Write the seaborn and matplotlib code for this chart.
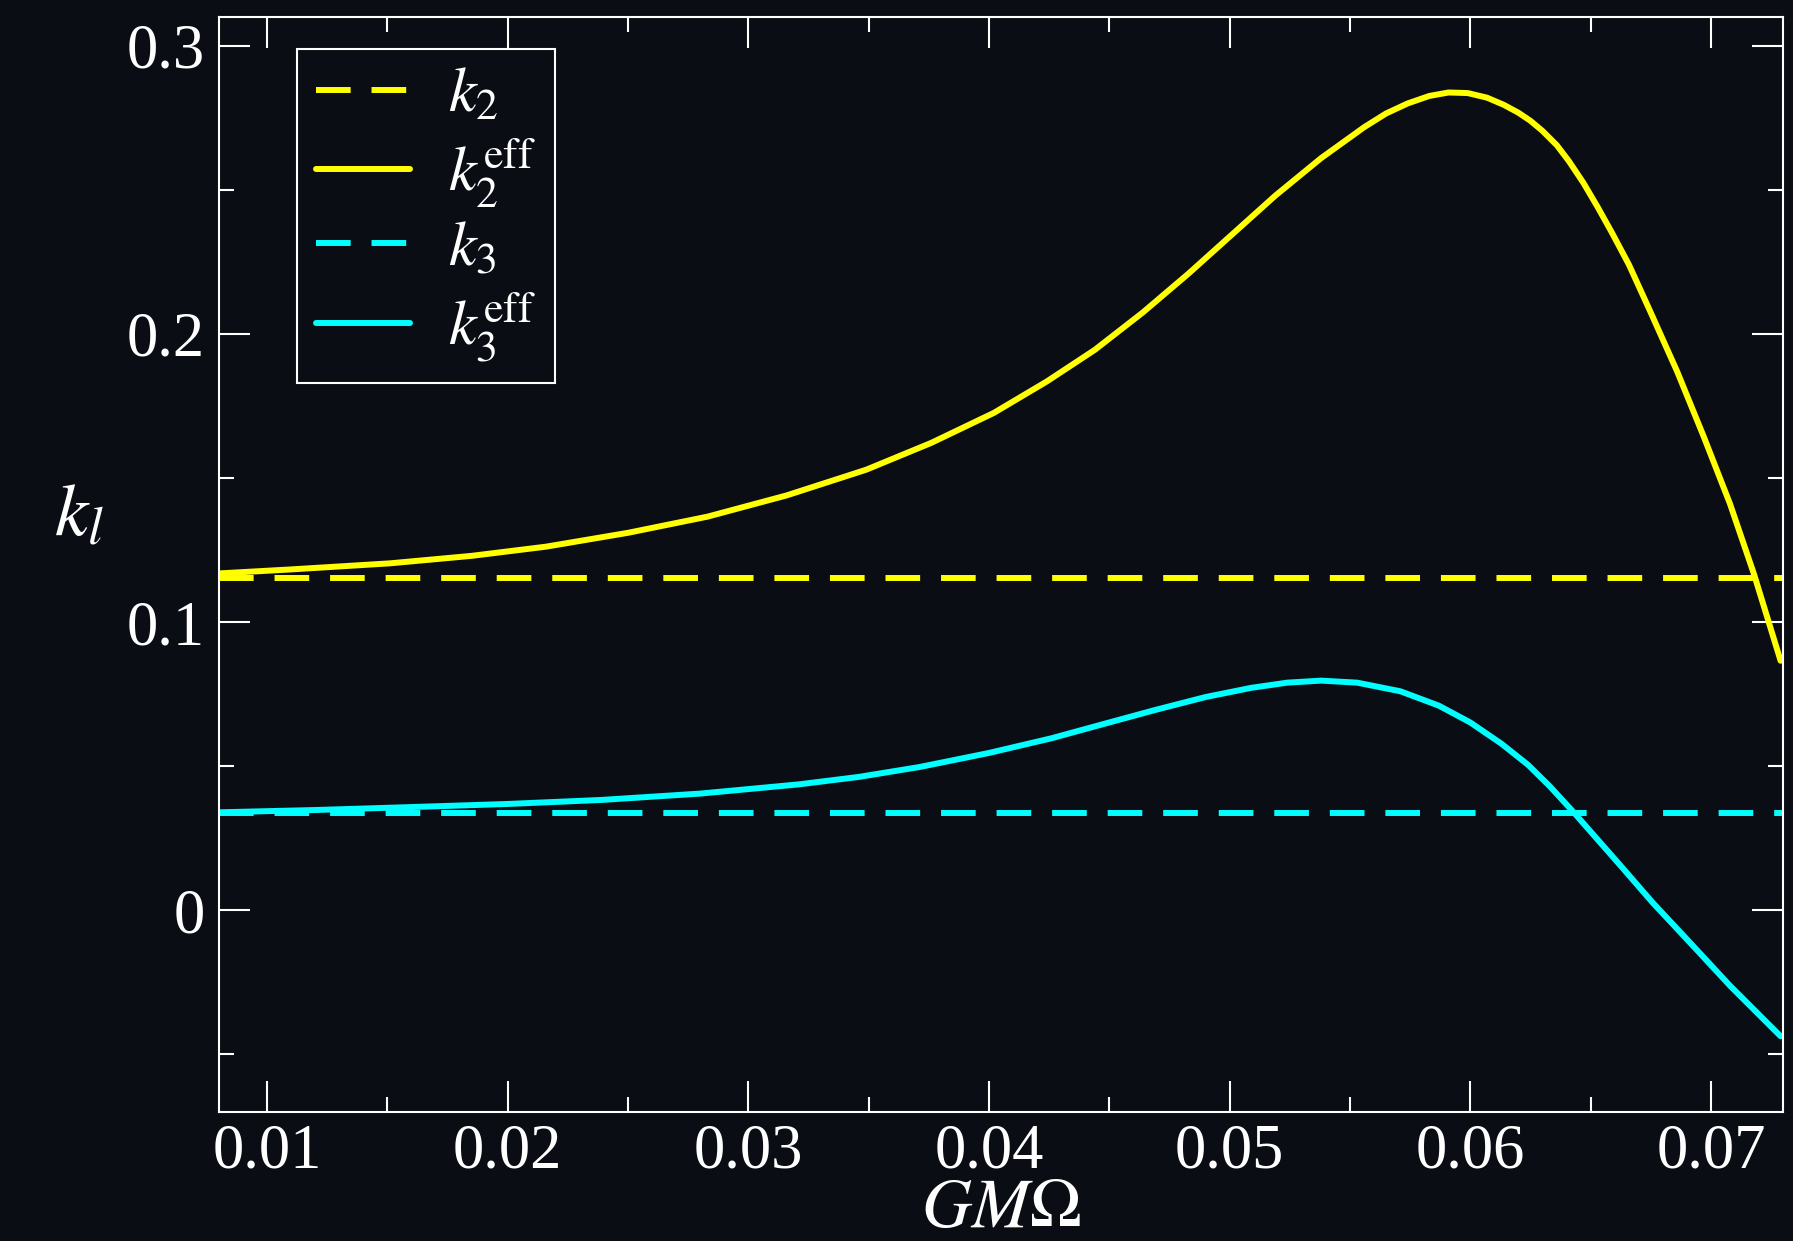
import numpy as np
import pandas as pd
import matplotlib
matplotlib.use("Agg")
import matplotlib.pyplot as plt
from matplotlib.ticker import FixedLocator, MultipleLocator
import seaborn as sns

# ---------------- data ----------------
k2_const = 0.1154
k3_const = 0.0337

k2eff_x = [0.0080, 0.0110, 0.0151, 0.0185, 0.0216, 0.0250, 0.0283, 0.0316, 0.0349,
           0.0376, 0.0402, 0.0424, 0.0444, 0.0464, 0.0483, 0.0501, 0.0519, 0.0538,
           0.0556, 0.0565, 0.0574, 0.0583, 0.0591, 0.0599, 0.0607, 0.0614, 0.0620,
           0.0625, 0.0630, 0.0636, 0.0641, 0.0647, 0.0653, 0.0659, 0.0666, 0.0675,
           0.0686, 0.0697, 0.0708, 0.0718, 0.0729]
k2eff_y = [0.1169, 0.1183, 0.1204, 0.1230, 0.1262, 0.1310, 0.1366, 0.1440, 0.1529,
           0.1622, 0.1726, 0.1835, 0.1945, 0.2075, 0.2210, 0.2345, 0.2480, 0.2610,
           0.2718, 0.2765, 0.2800, 0.2826, 0.2838, 0.2836, 0.2820, 0.2795, 0.2768,
           0.2740, 0.2705, 0.2655, 0.2600, 0.2525, 0.2440, 0.2350, 0.2240, 0.2075,
           0.1870, 0.1645, 0.1410, 0.1165, 0.0866]

k3eff_x = [0.0080, 0.0120, 0.0159, 0.0200, 0.0239, 0.0280, 0.0321, 0.0346, 0.0371,
           0.0400, 0.0426, 0.0447, 0.0469, 0.0490, 0.0509, 0.0524, 0.0538, 0.0553,
           0.0571, 0.0587, 0.0600, 0.0613, 0.0624, 0.0633, 0.0643, 0.0653, 0.0663,
           0.0676, 0.0690, 0.0708, 0.0729]
k3eff_y = [0.0340, 0.0348, 0.0358, 0.0369, 0.0383, 0.0405, 0.0437, 0.0463, 0.0497,
           0.0546, 0.0597, 0.0645, 0.0695, 0.0740, 0.0772, 0.0790, 0.0797, 0.0790,
           0.0760, 0.0710, 0.0652, 0.0578, 0.0505, 0.0431, 0.0340, 0.0245, 0.0150,
           0.0025, -0.0100, -0.0262, -0.0437]

x_range = [0.008, 0.073]
y_range = [-0.07, 0.31]
xtick_values = [0.01, 0.02, 0.03, 0.04, 0.05, 0.06, 0.07]
xtick_labels = ["0.01", "0.02", "0.03", "0.04", "0.05", "0.06", "0.07"]
ytick_values = [0.0, 0.1, 0.2, 0.3]
ytick_labels = ["0", "0.1", "0.2", "0.3"]

legend_labels = [r"$k_2$", r"$k_2^{\rm eff}$", r"$k_3$", r"$k_3^{\rm eff}$"]
x_label = r"$GM\Omega$"
y_label = r"$k_l$"

# ---------------- style ----------------
BG = "#0a0e14"
FG = "#ffffff"
YELLOW = "#ffff00"
CYAN = "#00ffff"

sns.set_theme(style="dark")
plt.rcParams.update({
    "figure.facecolor": BG,
    "axes.facecolor": BG,
    "axes.edgecolor": FG,
    "axes.linewidth": 1.5,
    "axes.grid": False,
    "text.color": FG,
    "axes.labelcolor": FG,
    "xtick.color": FG,
    "ytick.color": FG,
    "mathtext.fontset": "stix",
    "lines.solid_joinstyle": "round",
})
plt.rcParams["font.family"] = ["Liberation Serif", "DejaVu Serif"]

fig = plt.figure(figsize=(17.93, 12.41), dpi=100)
ax = fig.add_axes([219 / 1793, 1 - 1112 / 1241, (1783 - 219) / 1793, (1112 - 17) / 1241])
ax.set_facecolor(BG)

lw = 4.3
dash = (0, (5.8, 3.5))

df_k2 = pd.DataFrame({"x": x_range, "y": [k2_const] * 2})
df_k2e = pd.DataFrame({"x": k2eff_x, "y": k2eff_y})
df_k3 = pd.DataFrame({"x": x_range, "y": [k3_const] * 2})
df_k3e = pd.DataFrame({"x": k3eff_x, "y": k3eff_y})

sns.lineplot(data=df_k2, x="x", y="y", ax=ax, color=YELLOW, lw=lw, linestyle=dash,
             label=legend_labels[0], sort=False)
sns.lineplot(data=df_k2e, x="x", y="y", ax=ax, color=YELLOW, lw=lw,
             label=legend_labels[1], sort=False)
sns.lineplot(data=df_k3, x="x", y="y", ax=ax, color=CYAN, lw=lw, linestyle=dash,
             label=legend_labels[2], sort=False)
sns.lineplot(data=df_k3e, x="x", y="y", ax=ax, color=CYAN, lw=lw,
             label=legend_labels[3], sort=False)

ax.set_xlim(*x_range)
ax.set_ylim(*y_range)

ax.xaxis.set_major_locator(FixedLocator(xtick_values))
ax.set_xticklabels(xtick_labels)
ax.xaxis.set_minor_locator(MultipleLocator(0.005))
ax.yaxis.set_major_locator(FixedLocator(ytick_values))
ax.set_yticklabels(ytick_labels)
ax.yaxis.set_minor_locator(MultipleLocator(0.05))

ax.tick_params(which="both", direction="in", top=True, right=True,
               bottom=True, left=True, color=FG, width=1.5)
ax.tick_params(which="major", length=22, labelsize=45)
ax.tick_params(axis="x", which="major", pad=8)
ax.tick_params(axis="y", which="major", pad=10)
ax.tick_params(which="minor", length=11)
for s in ax.spines.values():
    s.set_color(FG)
    s.set_linewidth(1.5)
    s.set_visible(True)

ax.set_xlabel(x_label, fontsize=50, color=FG, va="center")
ax.xaxis.set_label_coords(0.5, -0.090)
ax.set_ylabel(y_label, fontsize=54, color=FG, rotation=0, va="center", ha="center")
ax.yaxis.set_label_coords(-0.0895, 0.543)

leg = ax.legend(loc="upper left", bbox_to_anchor=(0.0499, 0.971), borderaxespad=0,
                fontsize=45, frameon=True, fancybox=False, handlelength=1.5,
                handletextpad=0.62, borderpad=0.3, labelspacing=0.18)
frame = leg.get_frame()
frame.set_facecolor(BG)
frame.set_edgecolor(FG)
frame.set_linewidth(1.5)
frame.set_alpha(1.0)
for t in leg.get_texts():
    t.set_color(FG)

fig.savefig("out.png", dpi=100, facecolor=BG)
